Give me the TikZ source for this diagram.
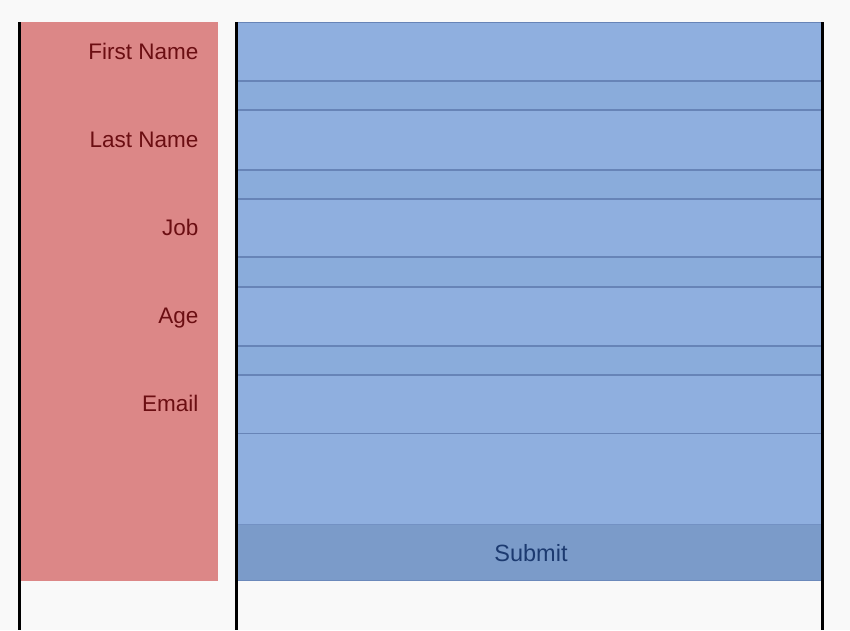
\documentclass[tikz,border=0pt]{standalone}
\usepackage{fontspec}
\setmainfont{Liberation Sans}
\definecolor{bg}{HTML}{F9F9F9}
\definecolor{redfill}{HTML}{DC8787}
\definecolor{redtext}{HTML}{6B0E12}
\definecolor{bluefill}{HTML}{8FAFDF}
\definecolor{bluegap}{HTML}{8AACDB}
\definecolor{blueline}{HTML}{6784B7}
\definecolor{submitfill}{HTML}{7B9BC9}
\definecolor{submittext}{HTML}{1C3A70}
\tikzset{
  lbl/.style={anchor=base east, inner sep=0pt, text=redtext, font=\fontsize{22.5}{27}\selectfont},
  sep/.style={line width=1.4pt, draw=blueline},
  bar/.style={line width=3.2pt, draw=black},
}
\begin{document}
\begin{tikzpicture}[x=1pt,y=-1pt]
\useasboundingbox (0,0) rectangle (850,630);
\fill[bg] (0,0) rectangle (850,630);
% red label panel
\fill[redfill] (21,22) rectangle (218,580.5);
% blue form panel
\fill[bluefill] (237,22) rectangle (822,524);
\foreach \a/\b in {81/110,170/199,257/287,346/375}{
  \fill[bluegap] (237,\a) rectangle (822,\b);
}
\fill[submitfill] (237,524) rectangle (822,580.5);
\draw[line width=0.8pt, draw=blueline!80!submitfill] (237,580.2) -- (822,580.2);
\draw[line width=0.6pt, draw=blueline!70!bluefill] (237,524) -- (822,524);
\foreach \y in {22.5,81,110,170,199,257,287,346,375,433.5}{
  \draw[sep] (237,\y) -- (822,\y);
}
% black rules
\coordinate (l1) at (19.8,22); \coordinate (l1b) at (19.8,630);
\coordinate (l2) at (236.8,22); \coordinate (l2b) at (236.8,630);
\coordinate (l3) at (822.8,22); \coordinate (l3b) at (822.8,630);
\draw[bar] (l1) -- (l1b);
\draw[bar] (l2) -- (l2b);
\draw[bar] (l3) -- (l3b);
% labels
\node[lbl] (first) at (198.5,59) {First Name};
\node[lbl] (last) at (198.5,147.3) {Last Name};
\node[lbl] (job) at (198.5,235.5) {Job};
\node[lbl] (age) at (198.5,323) {Age};
\node[lbl] (email) at (198.5,411.5) {Email};
\node[inner sep=0pt, anchor=base, text=submittext, font=\fontsize{23.5}{28}\selectfont] (submit) at (531,561.5) {Submit};
\end{tikzpicture}
\end{document}
